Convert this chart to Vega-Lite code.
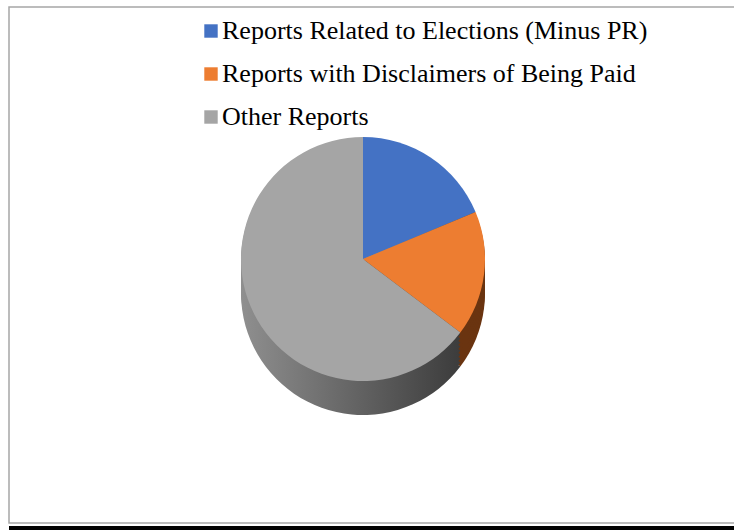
{
  "$schema": "https://vega.github.io/schema/vega-lite/v6.json",
  "autosize": {"type": "none"},
  "padding": {"left": 9, "top": 7, "right": 0, "bottom": 7},
  "width": 740,
  "height": 516,
  "background": "white",
  "config": {"view": {"stroke": "#a6a6a6", "strokeWidth": 1.5}},
  "data": {"values": [
    {"category": "Reports Related to Elections (Minus PR)", "value": 18.7, "order": 1},
    {"category": "Reports with Disclaimers of Being Paid", "value": 16.6, "order": 2},
    {"category": "Other Reports", "value": 64.7, "order": 3}
  ]},
  "layer": [
    {"mark": {"type": "arc", "outerRadius": 122, "xOffset": -16, "yOffset": 28},
     "encoding": {"theta": {"field": "value", "type": "quantitative", "stack": true}, "order": {"field": "order"},
       "color": {"condition": {"test": "datum.order === 2", "value": "#6a3410"}, "value": {"gradient": "linear", "x1": 0, "x2": 1, "y1": 0, "y2": 0, "stops": [{"offset": 0, "color": "#8f8f8f"}, {"offset": 1, "color": "#3c3c3c"}]}}}},
    {"mark": {"type": "arc", "outerRadius": 122, "xOffset": -16, "yOffset": 24},
     "encoding": {"theta": {"field": "value", "type": "quantitative", "stack": true}, "order": {"field": "order"},
       "color": {"condition": {"test": "datum.order === 2", "value": "#6a3410"}, "value": {"gradient": "linear", "x1": 0, "x2": 1, "y1": 0, "y2": 0, "stops": [{"offset": 0, "color": "#8f8f8f"}, {"offset": 1, "color": "#3c3c3c"}]}}}},
    {"mark": {"type": "arc", "outerRadius": 122, "xOffset": -16, "yOffset": 20},
     "encoding": {"theta": {"field": "value", "type": "quantitative", "stack": true}, "order": {"field": "order"},
       "color": {"condition": {"test": "datum.order === 2", "value": "#6a3410"}, "value": {"gradient": "linear", "x1": 0, "x2": 1, "y1": 0, "y2": 0, "stops": [{"offset": 0, "color": "#8f8f8f"}, {"offset": 1, "color": "#3c3c3c"}]}}}},
    {"mark": {"type": "arc", "outerRadius": 122, "xOffset": -16, "yOffset": 16},
     "encoding": {"theta": {"field": "value", "type": "quantitative", "stack": true}, "order": {"field": "order"},
       "color": {"condition": {"test": "datum.order === 2", "value": "#6a3410"}, "value": {"gradient": "linear", "x1": 0, "x2": 1, "y1": 0, "y2": 0, "stops": [{"offset": 0, "color": "#8f8f8f"}, {"offset": 1, "color": "#3c3c3c"}]}}}},
    {"mark": {"type": "arc", "outerRadius": 122, "xOffset": -16, "yOffset": 12},
     "encoding": {"theta": {"field": "value", "type": "quantitative", "stack": true}, "order": {"field": "order"},
       "color": {"condition": {"test": "datum.order === 2", "value": "#6a3410"}, "value": {"gradient": "linear", "x1": 0, "x2": 1, "y1": 0, "y2": 0, "stops": [{"offset": 0, "color": "#8f8f8f"}, {"offset": 1, "color": "#3c3c3c"}]}}}},
    {"mark": {"type": "arc", "outerRadius": 122, "xOffset": -16, "yOffset": 8},
     "encoding": {"theta": {"field": "value", "type": "quantitative", "stack": true}, "order": {"field": "order"},
       "color": {"condition": {"test": "datum.order === 2", "value": "#6a3410"}, "value": {"gradient": "linear", "x1": 0, "x2": 1, "y1": 0, "y2": 0, "stops": [{"offset": 0, "color": "#8f8f8f"}, {"offset": 1, "color": "#3c3c3c"}]}}}},
    {"mark": {"type": "arc", "outerRadius": 122, "xOffset": -16, "yOffset": 4},
     "encoding": {"theta": {"field": "value", "type": "quantitative", "stack": true}, "order": {"field": "order"},
       "color": {"condition": {"test": "datum.order === 2", "value": "#6a3410"}, "value": {"gradient": "linear", "x1": 0, "x2": 1, "y1": 0, "y2": 0, "stops": [{"offset": 0, "color": "#8f8f8f"}, {"offset": 1, "color": "#3c3c3c"}]}}}},
    {"mark": {"type": "arc", "outerRadius": 122, "xOffset": -16, "yOffset": 0},
     "encoding": {"theta": {"field": "value", "type": "quantitative", "stack": true}, "order": {"field": "order"},
       "color": {"condition": {"test": "datum.order === 2", "value": "#6a3410"}, "value": {"gradient": "linear", "x1": 0, "x2": 1, "y1": 0, "y2": 0, "stops": [{"offset": 0, "color": "#8f8f8f"}, {"offset": 1, "color": "#3c3c3c"}]}}}},
    {"mark": {"type": "arc", "outerRadius": 122, "xOffset": -16, "yOffset": -4},
     "encoding": {"theta": {"field": "value", "type": "quantitative", "stack": true}, "order": {"field": "order"},
       "color": {"condition": {"test": "datum.order === 2", "value": "#6a3410"}, "value": {"gradient": "linear", "x1": 0, "x2": 1, "y1": 0, "y2": 0, "stops": [{"offset": 0, "color": "#8f8f8f"}, {"offset": 1, "color": "#3c3c3c"}]}}}},
    {"mark": {"type": "arc", "outerRadius": 122, "xOffset": -16, "yOffset": -6},
     "encoding": {"theta": {"field": "value", "type": "quantitative", "stack": true}, "order": {"field": "order"},
       "color": {"field": "category", "type": "nominal",
         "scale": {"domain": ["Reports Related to Elections (Minus PR)", "Reports with Disclaimers of Being Paid", "Other Reports"], "range": ["#4472C4", "#ED7D31", "#A5A5A5"]},
         "legend": {"title": null, "orient": "none", "legendX": 189, "legendY": 11, "padding": 0,
           "symbolType": "square", "symbolSize": 180, "symbolStrokeWidth": 0,
           "labelFont": "Liberation Serif", "labelFontSize": 26, "labelColor": "#000000", "labelLimit": 0, "labelOffset": -2, "rowPadding": 17}}}},
    {"data": {"values": [{"bar": "bottom"}]},
     "mark": {"type": "rule", "color": "#000000", "strokeWidth": 4, "yOffset": 5},
     "encoding": {"y": {"value": "height"}}}
  ]
}
